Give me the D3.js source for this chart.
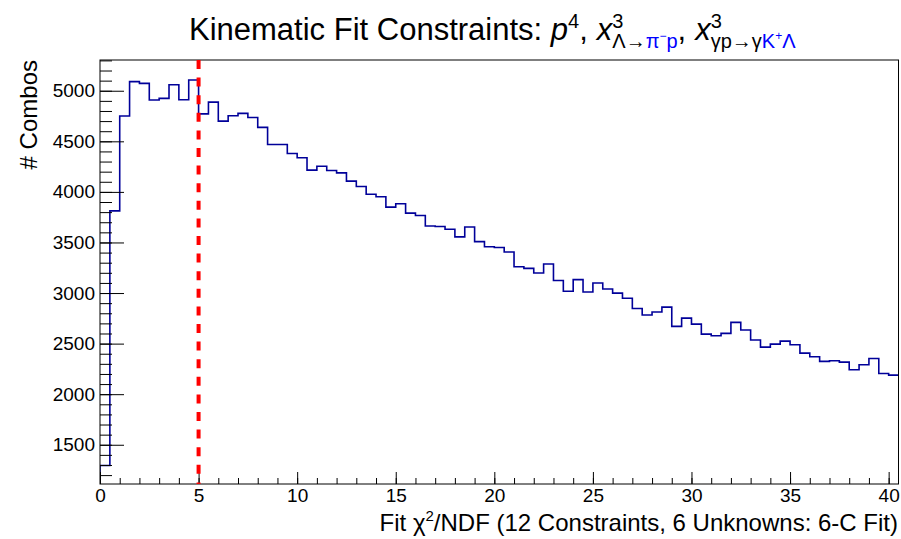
<!DOCTYPE html>
<html>
<head>
<meta charset="utf-8">
<script src="https://cdn.jsdelivr.net/npm/d3@7"></script>
<style>
  html, body { margin: 0; padding: 0; background: #fff; }
  svg { display: block; }
  text { font-family: "Liberation Sans", Arial, Helvetica, sans-serif; }
</style>
</head>
<body>
<svg id="chart" width="901" height="539"></svg>
<script>
// ---- data ----
const binWidth = 0.5;
const binStart = 0;
const counts = [
  1295, 3812, 4750, 5090, 5073, 4908, 4925, 5060, 4911, 5106,
  4771, 4888, 4700, 4753, 4776, 4736, 4638, 4469, 4469, 4380,
  4337, 4215, 4254, 4212, 4188, 4106, 4053, 3977, 3952, 3849,
  3883, 3790, 3767, 3663, 3658, 3631, 3555, 3653, 3508, 3457,
  3450, 3405, 3260, 3244, 3198, 3287, 3124, 3017, 3133, 3010,
  3099, 3040, 2999, 2949, 2847, 2783, 2812, 2861, 2670, 2752,
  2693, 2594, 2578, 2601, 2710, 2634, 2535, 2465, 2495, 2525,
  2489, 2406, 2370, 2324, 2330, 2317, 2241, 2291, 2353, 2205,
  2188
];
const xMajorTicks = [0, 5, 10, 15, 20, 25, 30, 35, 40];
const xMinorTicks = d3.range(0, 41, 1);
const yMajorTicks = [1500, 2000, 2500, 3000, 3500, 4000, 4500, 5000];
const yMinorTicks = d3.range(1200, 5301, 100);
const xDomain = [0, 40.5];
const yDomain = [1112, 5304];
const cutValue = 5;
const xTitle = "Fit χ²/NDF (12 Constraints, 6 Unknowns: 6-C Fit)";
const yTitle = "# Combos";

// ---- layout ----
const svg = d3.select("#chart");
const L = 100, R = 898.5, T = 60, B = 484;
const x = d3.scaleLinear().domain(xDomain).range([L, R]);
const y = d3.scaleLinear().domain(yDomain).range([B, T]);

svg.append("rect").attr("width", 901).attr("height", 539).attr("fill", "#fff");

svg.append("defs").append("clipPath").attr("id", "plotclip")
  .append("rect").attr("x", L).attr("y", T).attr("width", R - L).attr("height", B - T);

// histogram outline
const edges = counts.map((c, i) => binStart + i * binWidth);
let d = `M${x(edges[0])},${B}`;
counts.forEach((c, i) => {
  d += `V${y(c)}H${x(edges[i] + binWidth)}`;
});
svg.append("path")
  .attr("clip-path", "url(#plotclip)")
  .attr("d", d)
  .attr("fill", "none")
  .attr("stroke", "#000099")
  .attr("stroke-width", 1.6);

// axes
const fontAxis = "Liberation Sans, Arial, sans-serif";
const gx = svg.append("g").attr("transform", `translate(0,${B})`)
  .call(d3.axisBottom(x).tickValues(xMajorTicks).tickSizeInner(-12).tickSizeOuter(0).tickPadding(5).tickFormat(d3.format("d")));
const gxm = svg.append("g").attr("transform", `translate(0,${B})`)
  .call(d3.axisBottom(x).tickValues(xMinorTicks).tickSizeInner(-6).tickSizeOuter(0).tickFormat(""));
const gy = svg.append("g").attr("transform", `translate(${L},0)`)
  .call(d3.axisLeft(y).tickValues(yMajorTicks).tickSizeInner(-24).tickSizeOuter(0).tickPadding(5).tickFormat(d3.format("d")));
const gym = svg.append("g").attr("transform", `translate(${L},0)`)
  .call(d3.axisLeft(y).tickValues(yMinorTicks).tickSizeInner(-12).tickSizeOuter(0).tickFormat(""));
[gx, gxm, gy, gym].forEach(g => {
  g.select(".domain").remove();
  g.selectAll("line").attr("stroke", "#000").attr("stroke-width", 1);
  g.selectAll("text").attr("font-family", fontAxis).attr("font-size", 19).attr("fill", "#000");
});

// frame
svg.append("rect").attr("x", L).attr("y", T).attr("width", R - L).attr("height", B - T)
  .attr("fill", "none").attr("stroke", "#000").attr("stroke-width", 1);

// cut line
svg.append("line")
  .attr("x1", x(cutValue)).attr("x2", x(cutValue))
  .attr("y1", T).attr("y2", B)
  .attr("stroke", "#ff0000").attr("stroke-width", 4)
  .attr("stroke-dasharray", "9,8.6");

// rich text helper
function rich(parent, x0, y0, segs, anchor) {
  const g = parent.append("g");
  let cx = 0, saved = 0, maxX = 0;
  segs.forEach(s => {
    if (s.gap) { cx += s.gap; return; }
    if (s.stack === "start") saved = cx;
    if (s.stack === "alt") { maxX = cx; cx = saved; }
    const t = g.append("text")
      .attr("x", cx).attr("y", s.by || 0)
      .attr("font-size", s.fs)
      .attr("font-style", s.it ? "italic" : "normal")
      .attr("font-family", s.serif ? "Liberation Serif, 'DejaVu Serif', serif" : "Liberation Sans, Arial, sans-serif")
      .attr("fill", s.fill || "#000")
      .text(s.t);
    cx += t.node().getComputedTextLength();
    if (s.stack === "end") cx = Math.max(cx, maxX);
  });
  const w = cx;
  const ox = anchor === "end" ? x0 - w : (anchor === "middle" ? x0 - w / 2 : x0);
  g.attr("transform", `translate(${ox},${y0})`);
  return g;
}

// title
const F = 31, S = 20, blue = "#0000ff";
rich(svg, 189, 40, [
  { t: "Kinematic Fit Constraints:", fs: F }, { gap: 8.6 },
  { t: "p", fs: F, it: true }, { t: "4", fs: S, by: -12 },
  { t: ",", fs: F }, { gap: 9 },
  { t: "x", fs: F, it: true },
  { t: "3", fs: S, by: -12, stack: "start" },
  { t: "Λ", fs: S, by: 8, serif: true, stack: "alt" },
  { t: "→", fs: S, by: 8, serif: true },
  { t: "π", fs: S, by: 8, serif: true, fill: blue },
  { t: "−", fs: 12, by: 0, fill: blue },
  { t: "p", fs: S, by: 8, fill: blue, stack: "end" },
  { t: ",", fs: F }, { gap: 9 },
  { t: "x", fs: F, it: true },
  { t: "3", fs: S, by: -12, stack: "start" },
  { t: "γ", fs: S, by: 8, serif: true, stack: "alt" },
  { t: "p", fs: S, by: 8 },
  { t: "→γ", fs: S, by: 8, serif: true },
  { t: "K", fs: S, by: 8, fill: blue },
  { t: "+", fs: 12, by: 0, fill: blue },
  { t: "Λ", fs: S, by: 8, serif: true, fill: blue, stack: "end" }
], "start");

// x title
rich(svg, 898, 531, [
  { t: "Fit", fs: 24 }, { gap: 6.7 },
  { t: "χ", fs: 24, serif: true },
  { t: "2", fs: 15, by: -10 },
  { t: "/NDF (12 Constraints, 6 Unknowns: 6-C Fit)", fs: 24 }
], "end");

// y title
svg.append("text")
  .attr("transform", `translate(37,${T}) rotate(-90)`)
  .attr("text-anchor", "end")
  .attr("font-size", 24)
  .attr("fill", "#000")
  .text(yTitle);
</script>
</body>
</html>
